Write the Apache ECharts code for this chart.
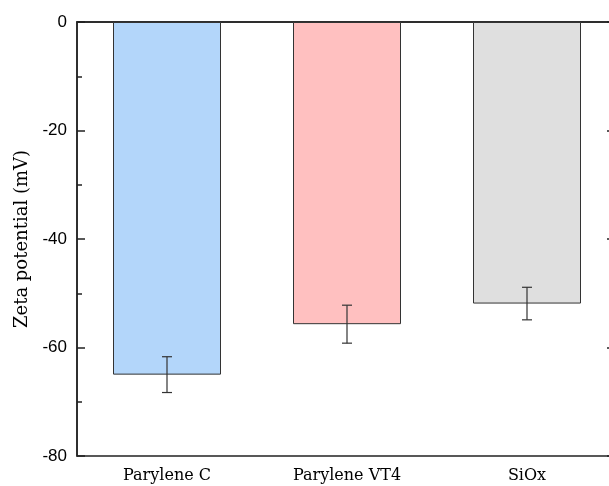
<html>
<head>
<meta charset="UTF-8">
<title>Zeta potential</title>
<script src="https://cdn.jsdelivr.net/npm/echarts@6/dist/echarts.min.js"></script>
<style>
  html, body { margin: 0; padding: 0; background: #fff; }
  #main { width: 609px; height: 486px; }
</style>
</head>
<body>
<div id="main"></div>
<script>
  // data
  var categories = ['Parylene C', 'Parylene VT4', 'SiOx'];
  var zeta = [-65.0, -55.7, -51.9];
  var zetaErr = [3.3, 3.5, 3.0];
  var barColors = ['#b3d6fa', '#ffc0c0', '#dfdfdf'];

  var myChart = echarts.init(document.getElementById('main'));

  var barData = [];
  var errData = [];
  for (var i = 0; i < categories.length; i++) {
    barData.push({ value: zeta[i], itemStyle: { color: barColors[i] } });
    errData.push([i, zeta[i] - zetaErr[i], zeta[i] + zetaErr[i]]);
  }

  var option = {
    animation: false,
    grid: {
      left: 77, top: 22, width: 540, height: 434,
      outerBoundsMode: 'none',
      containLabel: false,
      show: true, borderColor: '#222', borderWidth: 1.5,
      backgroundColor: 'transparent'
    },
    xAxis: [
      {
        type: 'category',
        data: categories,
        position: 'bottom',
        axisLine: { lineStyle: { color: '#222', width: 1.5 } },
        axisTick: { alignWithLabel: true, length: 7, lineStyle: { color: '#222', width: 1.5 } },
        axisLabel: { color: '#000', fontFamily: 'DejaVu Serif', fontSize: 16, margin: 12 }
      },
      {
        // boundary ticks, moved down onto the bottom line
        type: 'category',
        data: categories,
        position: 'top',
        offset: -434,
        axisLine: { show: false },
        axisTick: { inside: true, length: 4, lineStyle: { color: '#222', width: 1.5 } },
        axisLabel: { show: false }
      }
    ],
    yAxis: [
      {
        type: 'value',
        min: -80, max: 0, interval: 20,
        name: 'Zeta potential (mV)',
        nameLocation: 'middle',
        nameGap: 43,
        nameTextStyle: { color: '#000', fontFamily: 'DejaVu Serif', fontSize: 18 },
        axisLine: { show: true, lineStyle: { color: '#222', width: 1.5 } },
        axisTick: { show: true, inside: true, length: 8, lineStyle: { color: '#222', width: 1.5 } },
        minorTick: { show: true, splitNumber: 2, length: 5, lineStyle: { color: '#222', width: 1.5 } },
        axisLabel: { color: '#000', fontFamily: 'Liberation Sans', fontSize: 17, margin: 10 },
        splitLine: { show: false }
      },
      {
        type: 'value',
        min: -80, max: 0, interval: 20,
        position: 'right',
        axisLine: { show: false },
        axisTick: { show: true, inside: true, length: 10, lineStyle: { color: '#222', width: 1.5 } },
        axisLabel: { show: false },
        splitLine: { show: false }
      }
    ],
    series: [
      {
        name: 'zeta',
        type: 'bar',
        data: barData,
        barWidth: '60%',
        itemStyle: { borderColor: '#333', borderWidth: 1 }
      },
      {
        name: 'error',
        type: 'custom',
        data: errData,
        z: 10,
        renderItem: function (params, api) {
          var lo = api.coord([api.value(0), api.value(1)]);
          var hi = api.coord([api.value(0), api.value(2)]);
          var hw = 5;
          var st = { stroke: '#333', lineWidth: 1.2 };
          return {
            type: 'group',
            children: [
              { type: 'line', shape: { x1: lo[0], y1: lo[1], x2: hi[0], y2: hi[1] }, style: st },
              { type: 'line', shape: { x1: lo[0] - hw, y1: lo[1], x2: lo[0] + hw, y2: lo[1] }, style: st },
              { type: 'line', shape: { x1: hi[0] - hw, y1: hi[1], x2: hi[0] + hw, y2: hi[1] }, style: st }
            ]
          };
        }
      }
    ]
  };
  myChart.setOption(option);
</script>
</body>
</html>
